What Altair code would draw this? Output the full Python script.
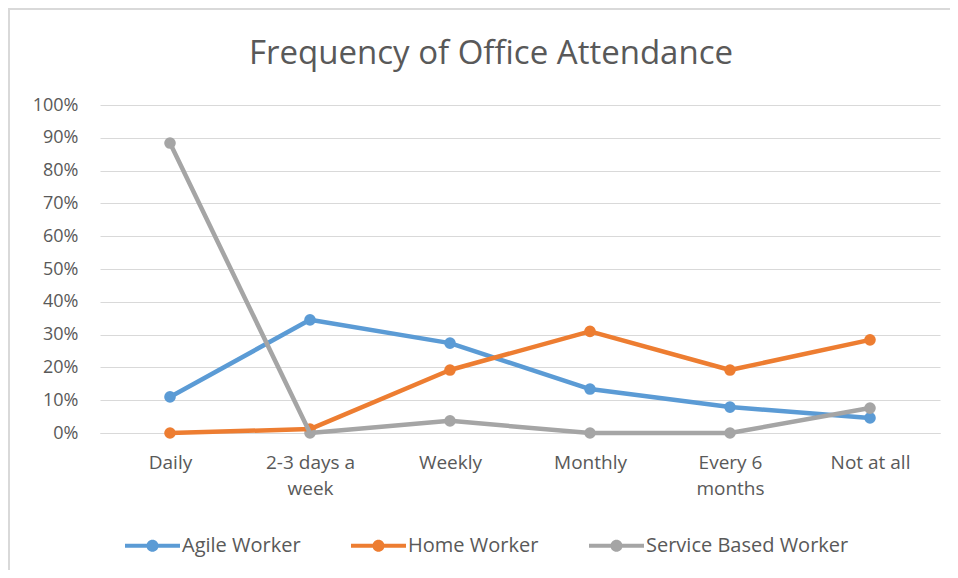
import altair as alt
import pandas as pd

categories = ["Daily", "2-3 days a week", "Weekly", "Monthly", "Every 6 months", "Not at all"]
series = ["Agile Worker", "Home Worker", "Service Based Worker"]
agile = [0.11, 0.345, 0.274, 0.134, 0.079, 0.046]
home = [0.0, 0.012, 0.192, 0.31, 0.192, 0.284]
service = [0.884, 0.0, 0.037, 0.0, 0.0, 0.076]
colors = ["#5b9bd5", "#ed7d31", "#a5a5a5"]
y_ticks = [i / 10 for i in range(11)]

rows = []
for name, vals in zip(series, [agile, home, service]):
    for c, v in zip(categories, vals):
        rows.append({"Category": c, "Series": name, "Value": v})
df = pd.DataFrame(rows)

FONT = "Open Sans"
TXT = "#595959"

label_expr = ("datum.value == '2-3 days a week' ? ['2-3 days a', 'week'] : "
              "datum.value == 'Every 6 months' ? ['Every 6', 'months'] : datum.value")

x_enc = alt.X("Category:N", sort=categories, title=None,
              scale=alt.Scale(paddingInner=0, paddingOuter=0.5),
              axis=alt.Axis(labelAngle=0, labelExpr=label_expr, ticks=False,
                            domain=True, domainColor="#d9d9d9", grid=False,
                            labelFontSize=19, labelColor=TXT, labelFont=FONT,
                            labelPadding=20, labelLineHeight=26, labelLimit=200))
y_enc = alt.Y("Value:Q", title=None,
              scale=alt.Scale(domain=[0, 1], nice=False),
              axis=alt.Axis(values=y_ticks, format=".0%", ticks=False, domain=False,
                            gridColor="#d9d9d9", gridWidth=1,
                            labelFontSize=18, labelColor=TXT, labelFont=FONT,
                            labelPadding=22))
color_enc = alt.Color("Series:N", sort=series,
                      scale=alt.Scale(domain=series, range=colors),
                      legend=alt.Legend(title=None, orient="none", direction="horizontal",
                                        legendX=25, legendY=413,
                                        symbolType="M-1,-0.075L1,-0.075L1,0.075L-1,0.075Z M0.22,0A0.22,0.22,0,1,1,-0.22,0A0.22,0.22,0,1,1,0.22,0Z",
                                        symbolSize=3025, symbolStrokeWidth=0,
                                        labelFontSize=20, labelColor=TXT, labelFont=FONT,
                                        labelLimit=400, labelOffset=2, columnPadding=50))

base = alt.Chart(df)
points = base.mark_point(filled=True, size=135, opacity=1).encode(x=x_enc, y=y_enc, color=color_enc)
lines = base.mark_line(strokeWidth=4.5, strokeCap="round", strokeJoin="round").encode(
    x=x_enc, y=y_enc, color=color_enc)

frame_top = alt.Chart(pd.DataFrame({"a": [0]})).mark_rule(color="#d9d9d9", strokeWidth=2).encode(
    x=alt.value(-92), x2=alt.value(850), y=alt.value(-96))
frame_left = alt.Chart(pd.DataFrame({"a": [0]})).mark_rule(color="#d9d9d9", strokeWidth=2).encode(
    x=alt.value(-91), y=alt.value(-96), y2=alt.value(470))

chart = alt.layer(frame_top, frame_left, points, lines).properties(
    width=840, height=328,
    title=alt.TitleParams("Frequency of Office Attendance", fontSize=33, font=FONT,
                          fontWeight="normal", color=TXT, anchor="middle", dx=-29,
                          offset=-96, baseline="bottom"),
    autosize=alt.AutoSizeParams(type="none"),
    padding={"left": 92, "top": 97, "right": 10, "bottom": 137},
).configure_view(stroke=None)

chart.save("out.html", embed_options={"renderer": "svg", "actions": False})
